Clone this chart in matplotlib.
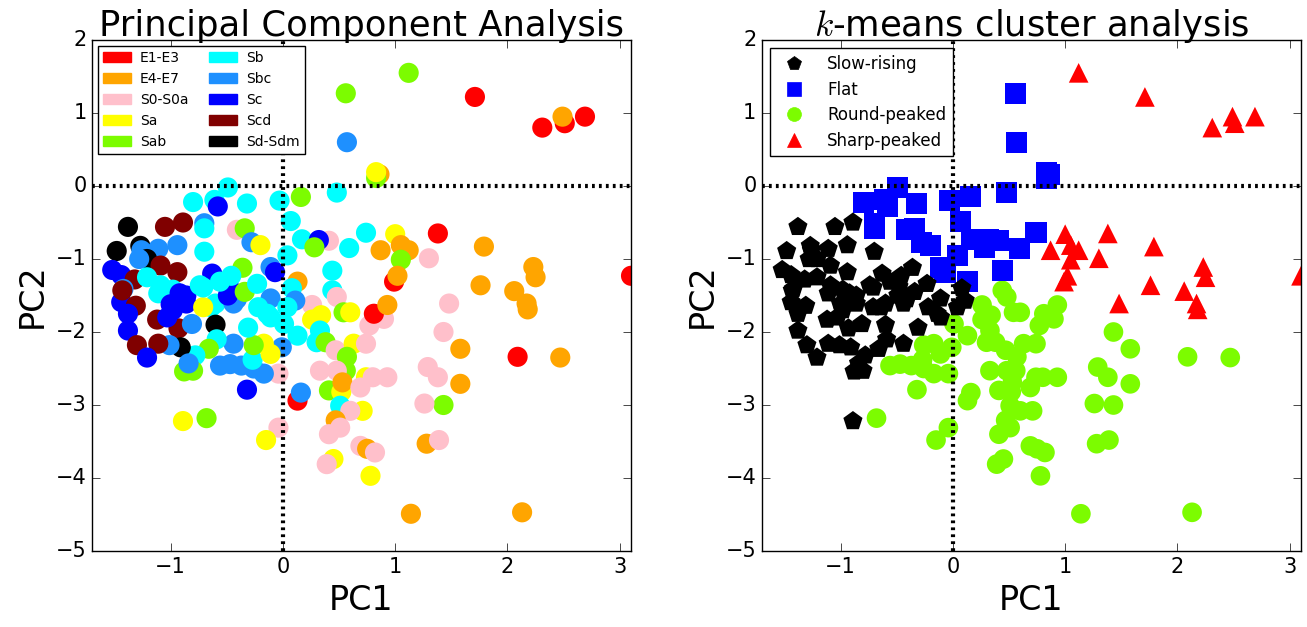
import matplotlib
matplotlib.use("Agg")
import matplotlib.pyplot as plt
from matplotlib.patches import Patch
from matplotlib.lines import Line2D

plt.style.use("classic")
plt.rcParams["mathtext.fontset"] = "cm"
plt.rcParams["font.family"] = ["DejaVu Sans"]

# Morphological classes and their colours
morph_types = ["E1-E3", "E4-E7", "S0-S0a", "Sa", "Sab", "Sb", "Sbc", "Sc", "Scd", "Sd-Sdm"]
morph_colors = ["#FF0000", "#FFA500", "#FFC0CB", "#FFFF00", "#7CFC00",
                "#00FFFF", "#1E90FF", "#0000FF", "#800000", "#000000"]
type_codes = ["E13", "E47", "S0", "Sa", "Sab", "Sb", "Sbc", "Sc", "Scd", "Sd"]

# Clusters from the k-means analysis
cluster_names = ["Slow-rising", "Flat", "Round-peaked", "Sharp-peaked"]
cluster_colors = ["#000000", "#0000FF", "#7CFC00", "#FF0000"]
cluster_markers = ["p", "s", "o", "^"]

# --- Slow-rising galaxies ---
slow_pc1 = [-1.38, -1.05, -0.89, -1.48, -1.27, -1.26, -1.11, -0.94, -0.70, -1.21,
            -1.28, -1.52, -1.09, -0.94, -1.44, -1.32, -1.21, -1.42, -1.09, -1.11,
            -0.98, -1.44, -1.31, -1.38, -1.38, -1.12, -0.93, -0.92, -0.86, -0.98,
            -1.03, -0.86, -1.00, -0.63, -0.74, -0.60, -0.64, -0.71, -0.44, -0.41,
            -0.49, -0.48, -0.34, -0.23, -0.11, -0.14, -0.22, -0.36, -0.46, -0.56,
            -0.71, -0.60, -0.81, -0.31, -0.44, -0.59, -0.66, -0.78, -0.91, -1.01,
            -1.11, -1.30, -1.21, -0.88, -0.80, -0.89, 0.08, 0.11, 0.04, -0.11,
            -0.84, -1.43]
slow_pc2 = [-0.56, -0.56, -0.50, -0.89, -0.82, -0.88, -0.86, -0.81, -0.90, -1.00,
            -1.00, -1.15, -1.09, -1.18, -1.22, -1.28, -1.25, -1.41, -1.36, -1.47,
            -1.42, -1.59, -1.64, -1.75, -1.98, -1.83, -1.95, -1.47, -1.61, -1.70,
            -1.80, -1.50, -1.62, -1.20, -1.36, -1.61, -1.66, -1.66, -1.61, -1.55,
            -1.50, -1.38, -1.45, -1.34, -1.54, -1.75, -1.66, -1.12, -1.23, -1.31,
            -1.39, -1.90, -1.89, -1.94, -2.16, -2.10, -2.23, -2.32, -2.21, -2.18,
            -2.16, -2.18, -2.35, -2.54, -2.53, -3.22, -1.40, -1.57, -1.66, -1.80,
            -2.43, -1.43]
slow_type = ["Sd", "Scd", "Scd", "Sd", "Sd", "Sbc", "Sbc", "Sbc", "Sb", "Sd",
             "Sbc", "Sc", "Scd", "Scd", "Sc", "Scd", "Sb", "Sbc", "Sb", "Sb",
             "Sb", "Sc", "Scd", "Sc", "Sc", "Scd", "Scd", "Sc", "Sc", "Sc",
             "Sc", "Sc", "Sc", "Sc", "Sb", "Sb", "Sb", "Sa", "Sbc", "Sbc",
             "Sc", "Sc", "Sab", "Sb", "Sbc", "Sb", "Sb", "Sab", "Sb", "Sb",
             "Sb", "Sd", "Sbc", "Sb", "Sbc", "Sb", "Sab", "Sb", "Sd", "Sbc",
             "Scd", "Scd", "Sc", "Sab", "Sab", "Sa", "Sb", "Sbc", "Sb", "Sb",
             "Sbc", "Scd"]

# --- Flat galaxies ---
flat_pc1 = [0.56, 0.57, 0.86, 0.83, 0.83, -0.49, -0.80, -0.61, -0.58, -0.32,
            -0.03, 0.16, 0.48, 0.07, -0.70, -0.70, -0.41, -0.34, -0.28, -0.20,
            0.17, 0.41, 0.32, 0.28, 0.59, 0.74, 0.04, 0.44, -0.11, -0.07,
            0.13]
flat_pc2 = [1.27, 0.60, 0.16, 0.11, 0.19, -0.02, -0.22, -0.19, -0.28, -0.24,
            -0.20, -0.15, -0.09, -0.48, -0.51, -0.58, -0.60, -0.58, -0.77, -0.81,
            -0.73, -0.75, -0.74, -0.84, -0.85, -0.64, -0.95, -1.16, -1.11, -1.18,
            -1.31]
flat_type = ["Sab", "Sbc", "E47", "Sab", "Sa", "Sb", "Sb", "Sb", "Sc", "Sb",
             "Sb", "Sab", "Sb", "Sb", "Sbc", "Sb", "S0", "Sab", "Sbc", "Sa",
             "Sb", "S0", "Sc", "Sab", "Sb", "Sb", "Sb", "Sb", "Sbc", "Sc",
             "E47"]

# --- Round-peaked galaxies ---
round_pc1 = [0.44, 0.48, 0.26, 0.34, 0.26, 0.54, 0.60, 0.33, 0.30, 0.38,
             0.13, 0.01, -0.01, 0.47, 0.63, 0.74, 0.77, 0.90, 0.81, 0.93,
             0.57, 0.56, 0.33, 0.48, 0.74, 0.93, 0.80, 0.41, 0.52, 0.53,
             0.69, 0.51, 0.71, 0.60, 0.13, 0.16, -0.04, -0.04, -0.15, 0.47,
             0.41, 0.51, 0.69, 0.75, 0.82, 0.45, 0.39, 0.78, 1.29, 1.38,
             1.58, 1.43, 1.58, 1.43, 1.26, 1.28, 1.39, 1.14, 2.13, 2.09,
             2.47, -0.68, -0.32, -0.56, -0.47, -0.37, -0.26, -0.17, -0.27, -0.17,
             -0.11, -0.26]
round_pc2 = [-1.43, -1.52, -1.63, -1.77, -1.83, -1.73, -1.73, -1.98, -2.14, -2.14,
             -2.05, -1.89, -2.21, -2.25, -2.16, -2.16, -1.91, -1.82, -1.75, -1.63,
             -2.34, -2.53, -2.53, -2.53, -2.62, -2.62, -2.62, -2.80, -2.82, -2.69,
             -2.76, -3.01, -3.08, -3.08, -2.94, -2.83, -2.57, -3.31, -3.48, -3.21,
             -3.40, -3.31, -3.56, -3.60, -3.65, -3.74, -3.81, -3.97, -2.48, -2.62,
             -2.23, -2.00, -2.71, -3.00, -2.98, -3.53, -3.48, -4.49, -4.47, -2.34,
             -2.35, -3.18, -2.79, -2.46, -2.44, -2.46, -2.50, -2.57, -2.38, -2.16,
             -2.30, -2.18]
round_type = ["Sb", "S0", "S0", "Sa", "Sa", "Sab", "Sa", "Sb", "Sb", "Sab",
              "Sb", "Sb", "Sbc", "S0", "Sa", "S0", "S0", "S0", "E13", "E47",
              "Sab", "Sab", "S0", "S0", "Sa", "S0", "S0", "Sab", "Sa", "E47",
              "S0", "Sb", "Sa", "S0", "E13", "Sbc", "S0", "S0", "Sa", "E47",
              "S0", "S0", "S0", "E47", "S0", "Sa", "S0", "Sa", "S0", "S0",
              "E47", "S0", "E47", "Sab", "S0", "E47", "S0", "E47", "E47", "E13",
              "E47", "Sab", "Sc", "Sbc", "Sbc", "Sbc", "Sbc", "Sbc", "Sb", "Sa",
              "Sa", "Sab"]

# --- Sharp-peaked galaxies ---
sharp_pc1 = [1.12, 1.71, 2.31, 2.51, 2.49, 2.69, 1.00, 1.38, 0.87, 1.05,
             1.12, 1.05, 1.30, 1.79, 2.23, 2.25, 2.06, 2.17, 2.18, 1.76,
             1.48, 3.10, 0.99, 1.02]
sharp_pc2 = [1.55, 1.22, 0.80, 0.86, 0.95, 0.95, -0.66, -0.65, -0.88, -0.81,
             -0.88, -1.01, -0.99, -0.83, -1.11, -1.25, -1.44, -1.61, -1.69, -1.36,
             -1.61, -1.23, -1.31, -1.23]
sharp_type = ["Sab", "E13", "E13", "E13", "E47", "E13", "Sa", "E13", "E47", "E47",
              "E47", "Sab", "S0", "E47", "E47", "E47", "E47", "E47", "E47", "E47",
              "S0", "E13", "E13", "E47"]

groups = [
    (round_pc1, round_pc2, round_type),
    (sharp_pc1, sharp_pc2, sharp_type),
    (flat_pc1, flat_pc2, flat_type),
    (slow_pc1, slow_pc2, slow_type),
]
group_cluster = [2, 3, 1, 0]

fig = plt.figure(figsize=(13.07, 6.27), dpi=100, facecolor="white")
ax1 = fig.add_axes([0.0704, 0.1212, 0.4124, 0.815])
ax2 = fig.add_axes([0.583, 0.1212, 0.4124, 0.815])

# Left: points coloured by morphological type
all_x, all_y, all_c = [], [], []
for gx, gy, gt in groups:
    all_x += gx
    all_y += gy
    all_c += [morph_colors[type_codes.index(t)] for t in gt]
ax1.scatter(all_x, all_y, c=all_c, s=210, edgecolors="none", zorder=2)

handles1 = [Patch(facecolor=c, edgecolor=c) for c in morph_colors]
leg1 = ax1.legend(handles1, morph_types, ncol=2, loc="upper left", fontsize=10,
                  borderaxespad=0.4, columnspacing=1.5, handletextpad=0.65,
                  labelspacing=0.5, borderpad=0.4)
leg1.get_frame().set_linewidth(1.0)
ax1.set_title("Principal Component Analysis", fontsize=25.5, pad=3)

# Right: points marked by k-means cluster
sizes = [210, 230, 200, 200]
for (gx, gy, gt), k in zip(groups, group_cluster):
    ax2.scatter(gx, gy, c=cluster_colors[k], marker=cluster_markers[k],
                s=sizes[k], edgecolors="none", zorder=2)

handles2 = [Line2D([], [], linestyle="none", marker=m, color=c, markersize=10,
                   markeredgecolor=c)
            for m, c in zip(cluster_markers, cluster_colors)]
leg2 = ax2.legend(handles2, cluster_names, loc="upper left", fontsize=12,
                  numpoints=1, borderaxespad=0.5, handletextpad=1.0,
                  labelspacing=0.45, borderpad=0.4)
leg2.get_frame().set_linewidth(1.0)
ax2.set_title(r"$k$-means cluster analysis", fontsize=25.5, pad=3)

for ax in (ax1, ax2):
    ax.axhline(0, color="k", linestyle=(0, (2.0, 3.0)), linewidth=3, zorder=3)
    ax.axvline(0, color="k", linestyle=(0, (2.0, 3.0)), linewidth=3, zorder=3)
    ax.set_xlim(-1.7, 3.1)
    ax.set_ylim(-5, 2)
    ax.set_xticks([-1, 0, 1, 2, 3])
    ax.set_yticks([-5, -4, -3, -2, -1, 0, 1, 2])
    ax.tick_params(labelsize=15, direction="in", top=True, right=True, length=6)
    ax.set_xlabel("PC1", fontsize=24)
    ax.set_ylabel("PC2", fontsize=24)
    ax.set_facecolor("white")

fig.savefig("out.png", dpi=100, facecolor="white")
